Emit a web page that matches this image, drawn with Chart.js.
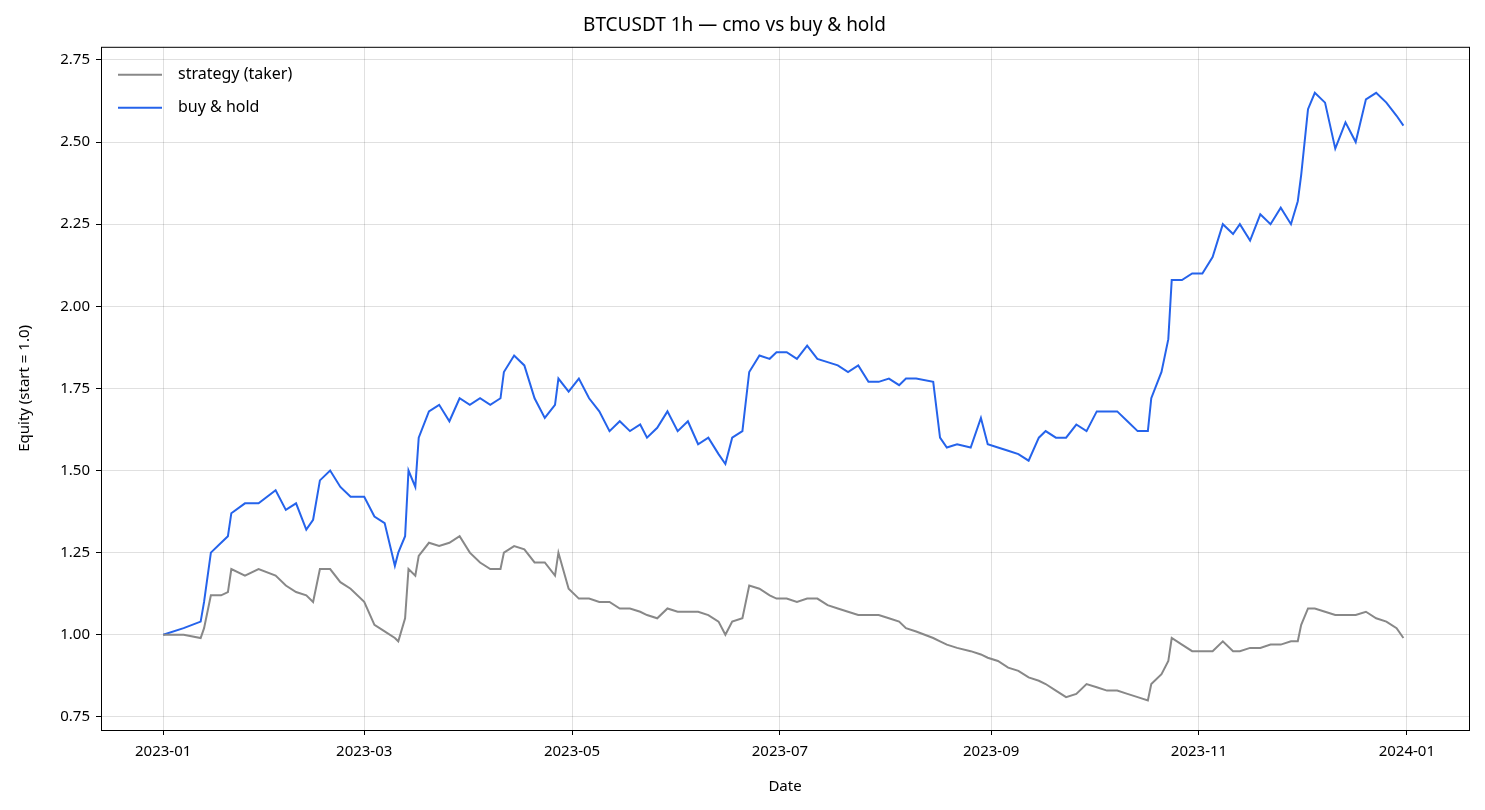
<!DOCTYPE html>
<html>
<head>
<meta charset="utf-8">
<script src="https://cdn.jsdelivr.net/npm/chart.js@4"></script>
<style>
  html, body { margin: 0; padding: 0; background: #fff; }
  #wrap { width: 1485px; height: 810px; }
</style>
</head>
<body>
<div id="wrap"><canvas id="c"></canvas></div>
<script>
// Days since 2023-01-01
const days = [0,6,11,12,14,17,19,20,24,28,33,36,39,42,44,46,49,52,55,59,62,65,68,69,71,72,74,75,78,81,84,87,90,93,96,99,100,103,106,109,112,115,116,119,122,125,128,131,134,137,140,142,145,148,151,154,157,160,163,165,167,170,172,175,178,180,183,186,189,192,195,198,201,204,207,210,213,216,218,221,226,228,230,233,237,240,242,245,248,251,254,257,259,262,265,268,271,274,277,280,283,286,289,290,293,295,296,299,302,305,308,311,314,316,319,322,325,328,331,333,334,336,338,341,344,347,350,353,356,359,362,364];

const buyHold = [1.00,1.02,1.04,1.10,1.25,1.28,1.30,1.37,1.40,1.40,1.44,1.38,1.40,1.32,1.35,1.47,1.50,1.45,1.42,1.42,1.36,1.34,1.21,1.25,1.30,1.50,1.45,1.60,1.68,1.70,1.65,1.72,1.70,1.72,1.70,1.72,1.80,1.85,1.82,1.72,1.66,1.70,1.78,1.74,1.78,1.72,1.68,1.62,1.65,1.62,1.64,1.60,1.63,1.68,1.62,1.65,1.58,1.60,1.55,1.52,1.60,1.62,1.80,1.85,1.84,1.86,1.86,1.84,1.88,1.84,1.83,1.82,1.80,1.82,1.77,1.77,1.78,1.76,1.78,1.78,1.77,1.60,1.57,1.58,1.57,1.66,1.58,1.57,1.56,1.55,1.53,1.60,1.62,1.60,1.60,1.64,1.62,1.68,1.68,1.68,1.65,1.62,1.62,1.72,1.80,1.90,2.08,2.08,2.10,2.10,2.15,2.25,2.22,2.25,2.20,2.28,2.25,2.30,2.25,2.32,2.40,2.60,2.65,2.62,2.48,2.56,2.50,2.63,2.65,2.62,2.58,2.55];

const strategy = [1.00,1.00,0.99,1.02,1.12,1.12,1.13,1.20,1.18,1.20,1.18,1.15,1.13,1.12,1.10,1.20,1.20,1.16,1.14,1.10,1.03,1.01,0.99,0.98,1.05,1.20,1.18,1.24,1.28,1.27,1.28,1.30,1.25,1.22,1.20,1.20,1.25,1.27,1.26,1.22,1.22,1.18,1.25,1.14,1.11,1.11,1.10,1.10,1.08,1.08,1.07,1.06,1.05,1.08,1.07,1.07,1.07,1.06,1.04,1.00,1.04,1.05,1.15,1.14,1.12,1.11,1.11,1.10,1.11,1.11,1.09,1.08,1.07,1.06,1.06,1.06,1.05,1.04,1.02,1.01,0.99,0.98,0.97,0.96,0.95,0.94,0.93,0.92,0.90,0.89,0.87,0.86,0.85,0.83,0.81,0.82,0.85,0.84,0.83,0.83,0.82,0.81,0.80,0.85,0.88,0.92,0.99,0.97,0.95,0.95,0.95,0.98,0.95,0.95,0.96,0.96,0.97,0.97,0.98,0.98,1.03,1.08,1.08,1.07,1.06,1.06,1.06,1.07,1.05,1.04,1.02,0.99];

const tickDays = [0, 59, 120, 181, 243, 304, 365];
const tickLabels = ['2023-01', '2023-03', '2023-05', '2023-07', '2023-09', '2023-11', '2024-01'];
const yTicks = [0.75, 1.00, 1.25, 1.50, 1.75, 2.00, 2.25, 2.50, 2.75];

const FONT = '"Noto Sans", "DejaVu Sans", sans-serif';
const GRAY = 'rgb(136, 136, 136)';
const BLUE = 'rgb(37, 99, 235)';

const frameAndLegend = {
  id: 'frameAndLegend',
  afterDraw(chart) {
    const { ctx, chartArea: a } = chart;
    ctx.save();
    ctx.strokeStyle = '#000';
    ctx.lineWidth = 1;
    ctx.strokeRect(a.left + 0.5, a.top + 0.5, a.right - a.left, a.bottom - a.top);
    // legend
    ctx.font = '16px ' + FONT;
    ctx.textBaseline = 'middle';
    chart.data.datasets.forEach((ds, i) => {
      const y = a.top + 28 + i * 33;
      ctx.strokeStyle = ds.borderColor;
      ctx.lineWidth = 2;
      ctx.beginPath();
      ctx.moveTo(a.left + 17, y);
      ctx.lineTo(a.left + 61, y);
      ctx.stroke();
      ctx.fillStyle = '#000';
      ctx.fillText(ds.label, a.left + 77, y);
    });
    ctx.restore();
  }
};

new Chart(document.getElementById('c'), {
  type: 'line',
  data: {
    datasets: [
      { label: 'strategy (taker)', data: days.map((d, i) => ({ x: d, y: strategy[i] })), borderColor: GRAY, borderWidth: 2 },
      { label: 'buy & hold', data: days.map((d, i) => ({ x: d, y: buyHold[i] })), borderColor: BLUE, borderWidth: 2 }
    ]
  },
  options: {
    responsive: true,
    maintainAspectRatio: false,
    animation: false,
    elements: { point: { radius: 0 }, line: { tension: 0 } },
    layout: { padding: { left: 0, right: 16, top: 0, bottom: 0 } },
    plugins: {
      legend: { display: false },
      tooltip: { enabled: false },
      title: {
        display: true,
        text: 'BTCUSDT 1h — cmo vs buy & hold',
        color: '#000',
        font: { family: FONT, size: 19, weight: 'normal' },
        padding: { top: 14, bottom: 10 }
      }
    },
    scales: {
      x: {
        type: 'linear',
        min: -18.25,
        max: 383.25,
        afterBuildTicks(s) { s.ticks = tickDays.map(v => ({ value: v })); },
        afterFit(s) { s.height = 80; },
        ticks: {
          color: '#000',
          font: { family: FONT, size: 15 },
          maxRotation: 0,
          padding: 8,
          callback: (v) => tickLabels[tickDays.indexOf(v)]
        },
        grid: { color: 'rgba(0,0,0,0.12)', tickColor: '#000', tickLength: 5 },
        border: { display: false },
        title: { display: true, text: 'Date', color: '#000', font: { family: FONT, size: 15 }, padding: { top: 4, bottom: 14 } }
      },
      y: {
        min: 0.71,
        max: 2.79,
        afterBuildTicks(s) { s.ticks = yTicks.map(v => ({ value: v })); },
        afterFit(s) { s.width = 101; },
        ticks: {
          color: '#000',
          font: { family: FONT, size: 15 },
          padding: 6,
          callback: (v) => v.toFixed(2)
        },
        grid: { color: 'rgba(0,0,0,0.12)', tickColor: '#000', tickLength: 5 },
        border: { display: false },
        title: { display: true, text: 'Equity (start = 1.0)', color: '#000', font: { family: FONT, size: 15 }, padding: { top: 16, bottom: 6 } }
      }
    }
  },
  plugins: [frameAndLegend]
});
</script>
</body>
</html>
